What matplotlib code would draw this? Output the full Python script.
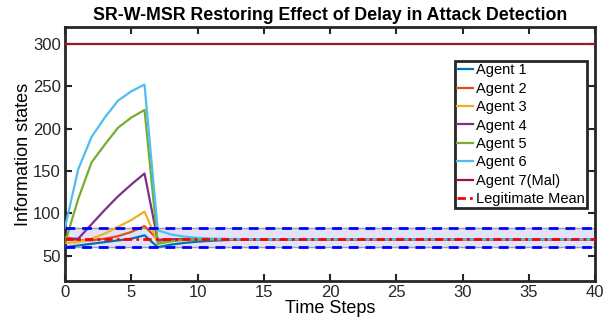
import numpy as np
import matplotlib.pyplot as plt

plt.rcParams['font.family'] = ['Liberation Sans', 'DejaVu Sans']

steps = np.arange(0, 41)
agent1 = [60, 62, 64, 66, 68, 70, 74, 60, 63, 65, 66.5, 67.5, 68.3, 68.8, 69.1, 69.2,
          69.3, 69.3, 69.3, 69.3, 69.3, 69.3, 69.3, 69.3, 69.3, 69.3, 69.3, 69.3, 69.3, 69.3,
          69.3, 69.3, 69.3, 69.3, 69.3, 69.3, 69.3, 69.3, 69.3, 69.3, 69.3]
agent2 = [72, 68, 68, 70, 73, 78, 85, 69, 69.5, 69.5, 69.4, 69.3, 69.3, 69.3, 69.3, 69.3,
          69.3, 69.3, 69.3, 69.3, 69.3, 69.3, 69.3, 69.3, 69.3, 69.3, 69.3, 69.3, 69.3, 69.3,
          69.3, 69.3, 69.3, 69.3, 69.3, 69.3, 69.3, 69.3, 69.3, 69.3, 69.3]
agent3 = [65, 66, 70, 76, 84, 92, 102, 66, 68, 69, 69.2, 69.3, 69.3, 69.3, 69.3, 69.3,
          69.3, 69.3, 69.3, 69.3, 69.3, 69.3, 69.3, 69.3, 69.3, 69.3, 69.3, 69.3, 69.3, 69.3,
          69.3, 69.3, 69.3, 69.3, 69.3, 69.3, 69.3, 69.3, 69.3, 69.3, 69.3]
agent4 = [70, 70, 87, 104, 120, 134, 147, 68, 69, 69.2, 69.3, 69.3, 69.3, 69.3, 69.3, 69.3,
          69.3, 69.3, 69.3, 69.3, 69.3, 69.3, 69.3, 69.3, 69.3, 69.3, 69.3, 69.3, 69.3, 69.3,
          69.3, 69.3, 69.3, 69.3, 69.3, 69.3, 69.3, 69.3, 69.3, 69.3, 69.3]
agent5 = [65, 117, 160, 181, 201, 213, 222, 64, 67, 68.5, 69, 69.2, 69.3, 69.3, 69.3, 69.3,
          69.3, 69.3, 69.3, 69.3, 69.3, 69.3, 69.3, 69.3, 69.3, 69.3, 69.3, 69.3, 69.3, 69.3,
          69.3, 69.3, 69.3, 69.3, 69.3, 69.3, 69.3, 69.3, 69.3, 69.3, 69.3]
agent6 = [83, 152, 190, 213, 233, 244, 252, 80, 75, 72.5, 71, 70.2, 69.8, 69.5, 69.4, 69.3,
          69.3, 69.3, 69.3, 69.3, 69.3, 69.3, 69.3, 69.3, 69.3, 69.3, 69.3, 69.3, 69.3, 69.3,
          69.3, 69.3, 69.3, 69.3, 69.3, 69.3, 69.3, 69.3, 69.3, 69.3, 69.3]
agent7 = [300] * 41
legit_mean = 69.3
band_low = 60
band_high = 83

labels = ['Agent 1', 'Agent 2', 'Agent 3', 'Agent 4', 'Agent 5', 'Agent 6', 'Agent 7(Mal)']
colors = ['#0072BD', '#D95319', '#EDB120', '#7E2F8E', '#77AC30', '#4DBEEE', '#A2142F']

fig = plt.figure(figsize=(6.13, 3.33), dpi=100)
ax = fig.add_axes([0.106, 0.156, 0.865, 0.763])

ax.fill_between([0, 40], band_low, band_high, color='#E2E2F8', zorder=1)
ax.plot([0, 40], [band_low, band_low], color='#A0A0A0', lw=1, zorder=1)
ax.plot([0, 40], [band_high, band_high], color='#A0A0A0', lw=1, zorder=1)

series = [agent1, agent2, agent3, agent4, agent5, agent6, agent7]
for s, lab, c in zip(series, labels, colors):
    ax.plot(steps, s, color=c, lw=1.6, label=lab, zorder=3)

ax.plot([0, 40], [legit_mean, legit_mean], color='#FF0000', lw=2, ls=(0, (3, 1.5, 1, 1.5)),
        label='Legitimate Mean', zorder=4)
ax.plot([0, 40], [band_low, band_low], color='#0000FF', lw=2, ls=(0, (3.5, 2.5)), zorder=4)
ax.plot([0, 40], [band_high, band_high], color='#0000FF', lw=2, ls=(0, (3.5, 2.5)), zorder=4)

ax.set_xlim(0, 40)
ax.set_ylim(20, 320)
ax.set_xticks(np.arange(0, 41, 5))
ax.set_yticks([50, 100, 150, 200, 250, 300])
ax.tick_params(direction='in', length=5, width=1.5, labelsize=12, colors='#262626',
               top=True, right=True, pad=3)
for sp in ax.spines.values():
    sp.set_linewidth(2)
    sp.set_color('#262626')

ax.set_xlabel('Time Steps', fontsize=13, labelpad=0)
ax.set_ylabel('Information states', fontsize=13, labelpad=1)
ax.set_title('SR-W-MSR Restoring Effect of Delay in Attack Detection', fontsize=12.8,
             fontweight='bold', pad=5)

leg = ax.legend(loc='upper right', bbox_to_anchor=(0.985, 0.865), fontsize=10.5,
                frameon=True, fancybox=False, edgecolor='#262626', framealpha=1,
                handlelength=1.1, handletextpad=0.2, labelspacing=0.3,
                borderpad=0.15, borderaxespad=0)
leg.get_frame().set_linewidth(2)

fig.savefig('out.png', dpi=100)
